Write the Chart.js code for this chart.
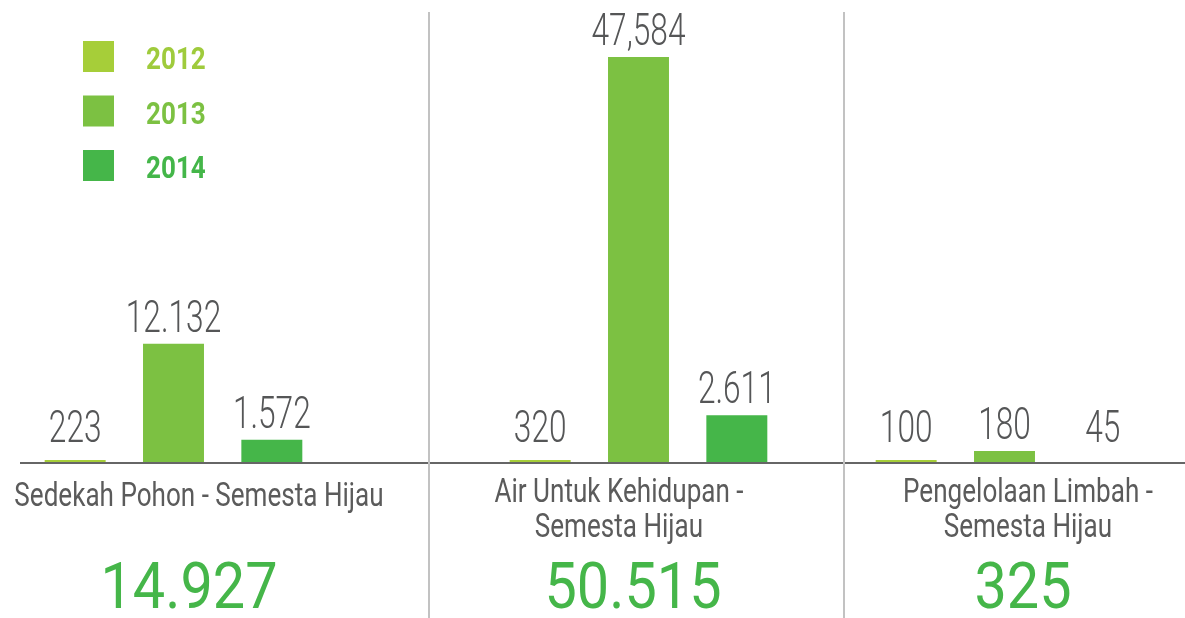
<!DOCTYPE html>
<html>
<head>
<meta charset="utf-8">
<script src="https://cdn.jsdelivr.net/npm/chart.js@4.4.1/dist/chart.umd.min.js"></script>
<style>
    html, body { margin: 0; padding: 0; background: #fff; }
    #stage { position: relative; width: 1185px; height: 618px; overflow: hidden; }
    #stage canvas { position: absolute; top: 0; }
    .prog {
        position: absolute; width: 600px; text-align: center;
        font-family: Roboto, sans-serif; font-weight: 400; font-size: 33px; line-height: 35px;
        color: #5b5b5b; transform: scaleX(0.79); white-space: nowrap;
    }
    .total {
        position: absolute; width: 400px; text-align: center;
        font-family: Roboto, sans-serif; font-weight: 400; font-size: 64px; line-height: 64px;
        color: #45b649; transform: scaleX(0.9); white-space: nowrap;
    }
</style>
</head>
<body>
<div id="stage"></div>
<script>
// Program donations per year - Semesta Hijau
// The original graphic is not drawn to scale, so bar lengths are read off the picture
// separately from the numbers printed above the bars.

const years = ['2012', '2013', '2014'];
const programs = [
    ['Sedekah Pohon - Semesta Hijau'],
    ['Air Untuk Kehidupan -', 'Semesta Hijau'],
    ['Pengelolaan Limbah -', 'Semesta Hijau']
];
const valueLabels = [
    ['223', '12.132', '1.572'],
    ['320', '47,584', '2.611'],
    ['100', '180', '45']
];
const barLengths = [
    [240, 13900, 2600],
    [240, 47584, 5500],
    [240, 1300, 0]
];
const totals = ['14.927', '50.515', '325'];
const yearColors = ['#a6ce39', '#7cc142', '#45b649'];
const yearTextColors = ['#9fcb3c', '#7cc142', '#44b649'];
const yMax = 47584;

// Panel geometry (canvas placement and padding around the plot area)
const panels = [
    { left: 0, width: 430, padL: 26, padR: 109, lineFrom: 20, sep: true, progX: 199, progTop: 477, totalX: 189 },
    { left: 430, width: 415, padL: 61, padR: 59, lineFrom: 0, sep: true, progX: 619, progTop: 473, totalX: 633 },
    { left: 845, width: 340, padL: 12, padR: 33, lineFrom: 0, sep: false, progX: 1028, progTop: 473, totalX: 1023 }
];

const stage = document.getElementById('stage');

// ===== Plugins =====
const panelLines = {
    id: 'panelLines',
    afterDraw(chart, args, opts) {
        const ctx = chart.ctx;
        const y = chart.chartArea.bottom + 1;
        ctx.save();
        ctx.strokeStyle = '#666666';
        ctx.lineWidth = 2;
        ctx.beginPath();
        ctx.moveTo(opts.lineFrom, y);
        ctx.lineTo(chart.width, y);
        ctx.stroke();
        if (opts.sep) {
            ctx.strokeStyle = '#c2c2c2';
            ctx.beginPath();
            ctx.moveTo(chart.width - 1, 12);
            ctx.lineTo(chart.width - 1, chart.height);
            ctx.stroke();
        }
        ctx.restore();
    }
};

const valueText = {
    id: 'valueText',
    afterDatasetsDraw(chart, args, opts) {
        const ctx = chart.ctx;
        const meta = chart.getDatasetMeta(0);
        ctx.save();
        ctx.fillStyle = '#555657';
        ctx.font = '300 44px Roboto';
        ctx.textAlign = 'center';
        ctx.textBaseline = 'alphabetic';
        meta.data.forEach((bar, j) => {
            // small bars get their label lifted a bit off the baseline
            const y = Math.min(bar.y - 12, chart.chartArea.bottom - 20);
            ctx.save();
            ctx.translate(bar.x, y);
            ctx.scale(0.72, 1);
            ctx.fillText(opts.labels[j], 0, 0);
            ctx.restore();
        });
        ctx.restore();
    }
};

const yearKey = {
    id: 'yearKey',
    afterDraw(chart, args, opts) {
        if (!opts.show) return;
        const ctx = chart.ctx;
        ctx.save();
        ctx.font = 'bold 31px Roboto';
        ctx.textBaseline = 'alphabetic';
        years.forEach((yr, i) => {
            const top = 41 + i * 54.5;
            ctx.fillStyle = yearColors[i];
            ctx.fillRect(83, top, 31, 31);
            ctx.save();
            ctx.translate(146, top + 28);
            ctx.scale(0.84, 1);
            ctx.fillStyle = yearTextColors[i];
            ctx.fillText(yr, 0, 0);
            ctx.restore();
        });
        ctx.restore();
    }
};

// ===== Build panels =====
panels.forEach((p, i) => {
    const canvas = document.createElement('canvas');
    canvas.width = p.width;
    canvas.height = 618;
    canvas.style.left = p.left + 'px';
    canvas.style.width = p.width + 'px';
    canvas.style.height = '618px';
    stage.appendChild(canvas);

    new Chart(canvas, {
        type: 'bar',
        data: {
            labels: years,
            datasets: [{
                data: barLengths[i],
                backgroundColor: yearColors,
                borderWidth: 0,
                barPercentage: 0.62,
                categoryPercentage: 1
            }]
        },
        options: {
            responsive: false,
            animation: false,
            devicePixelRatio: 1,
            layout: { padding: { left: p.padL, right: p.padR, top: 57, bottom: 156 } },
            scales: {
                x: { display: false },
                y: { display: false, min: 0, max: yMax }
            },
            plugins: {
                legend: { display: false },
                tooltip: { enabled: false },
                panelLines: { lineFrom: p.lineFrom, sep: p.sep },
                valueText: { labels: valueLabels[i] },
                yearKey: { show: i === 0 }
            }
        },
        plugins: [panelLines, valueText, yearKey]
    });

    const prog = document.createElement('div');
    prog.className = 'prog';
    prog.style.left = (p.progX - 300) + 'px';
    prog.style.top = p.progTop + 'px';
    prog.innerHTML = programs[i].join('<br>');
    stage.appendChild(prog);

    const total = document.createElement('div');
    total.className = 'total';
    total.style.left = (p.totalX - 200) + 'px';
    total.style.top = '555px';
    total.textContent = totals[i];
    stage.appendChild(total);
});
</script>
</body>
</html>
